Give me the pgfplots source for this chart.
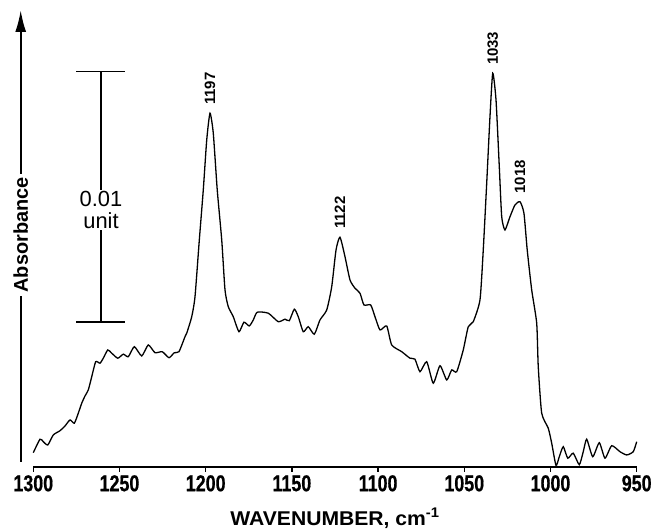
\documentclass[border=0pt]{standalone}
\usepackage{pgfplots}
\pgfplotsset{compat=1.18}
\usetikzlibrary{arrows.meta}
\usepackage{fontspec}
\setmainfont{Liberation Sans}
\newfontfamily\condfont[FakeStretch=0.78,FakeBold=0.6]{Liberation Sans}
\newfontfamily\widefont[FakeStretch=1.06]{Liberation Sans}

\pgfplotstableread{
x y
1300.0 0.56
1296.1 1.10
1294.2 1.00
1291.6 0.87
1288.4 1.27
1284.5 1.44
1281.6 1.63
1278.7 1.87
1276.2 1.74
1273.9 2.14
1271.9 2.54
1270.0 2.83
1268.1 3.07
1266.1 3.60
1263.8 4.20
1261.3 4.14
1259.4 4.34
1256.8 4.67
1254.5 4.54
1251.0 4.34
1247.8 4.50
1244.9 4.40
1241.4 4.80
1237.1 4.43
1233.3 4.87
1229.4 4.56
1225.2 4.60
1221.3 4.36
1218.2 4.56
1215.5 4.60
1212.0 5.20
1211.0 5.34
1208.1 6.00
1206.2 6.80
1203.7 9.07
1201.4 11.07
1199.4 13.07
1197.5 14.14
1195.6 13.34
1193.3 11.07
1190.7 9.07
1188.8 7.07
1186.9 6.40
1184.0 6.00
1180.7 5.40
1177.8 5.78
1174.7 5.63
1172.4 5.87
1170.1 6.18
1163.7 6.14
1157.9 5.80
1154.0 5.90
1151.5 5.84
1148.6 6.30
1146.3 6.00
1143.4 5.40
1140.5 5.60
1137.0 5.30
1133.7 5.87
1129.8 6.27
1126.9 7.20
1124.4 8.67
1122.1 9.18
1119.2 8.40
1116.3 7.47
1113.4 7.14
1110.5 6.94
1108.2 6.47
1104.3 6.47
1101.8 6.00
1098.9 5.47
1095.0 5.63
1092.1 4.87
1086.3 4.60
1081.5 4.34
1078.6 4.30
1075.7 3.80
1071.8 4.20
1068.0 3.34
1064.1 4.04
1060.2 3.47
1057.3 3.87
1054.4 3.80
1050.6 4.67
1047.7 5.60
1044.8 5.80
1040.9 6.67
1039.0 8.67
1037.0 11.34
1035.1 14.00
1033.5 15.74
1031.6 14.67
1029.7 12.00
1028.3 10.00
1026.4 9.47
1023.5 10.00
1020.6 10.47
1017.7 10.60
1015.4 10.14
1013.5 8.67
1010.9 7.07
1008.0 5.74
1007.1 4.00
1005.1 2.14
1001.3 1.54
999.3 0.94
996.8 0.05
994.9 0.40
992.6 0.80
990.0 0.34
986.8 0.54
983.3 0.08
981.0 0.60
979.0 1.10
975.5 0.40
971.7 0.96
968.4 0.34
964.5 0.84
959.7 0.60
955.8 0.47
952.0 0.60
950.0 1.00
}\spectrum

\begin{document}
\begin{tikzpicture}
\useasboundingbox (-33.3bp,-65.3bp) rectangle (624.7bp,466.7bp);
\begin{axis}[
  at={(0,0)}, anchor=south west,
  scale only axis, width=603.4bp, height=466.7bp,
  x dir=reverse, xmin=950, xmax=1300, ymin=0, ymax=18.668,
  axis x line*=bottom, axis y line=none, ytick=\empty,
  clip=false,
  xtick={950,1000,...,1300},
  /pgf/number format/assume math mode=true,
  /pgf/number format/1000 sep={},
  xticklabel style={font=\condfont\bfseries\fontsize{23}{23}\selectfont},
  tick align=outside, major tick length=5bp,
  every tick/.style={black, line width=1.3bp},
  x axis line style={line width=1.6bp},
  xlabel={WAVENUMBER, cm\textsuperscript{-1}},
  xlabel style={font=\widefont\bfseries\fontsize{20}{20}\selectfont, at={(axis description cs:0.5,0)}, anchor=center, yshift=-51.3bp},
]
\addplot[black, line width=1.3bp, smooth, tension=0.35] table {\spectrum};

% y arrow
\draw[line width=2.2bp, -{Latex[length=22bp,width=11bp]}] (axis cs:1307.3,0.2) -- (axis cs:1307.3,18.27);
\node[rotate=90, fill=white, inner sep=3bp, font=\bfseries\fontsize{20}{20}\selectfont] at (axis cs:1307.3,9.27) {Absorbance};

% scale bar
\draw[line width=1.3bp] (axis cs:1260.7,5.78) -- (axis cs:1260.7,15.8);
\draw[line width=1.5bp] (axis cs:1275.2,15.8) -- (axis cs:1246.8,15.8);
\draw[line width=1.5bp] (axis cs:1275.2,5.78) -- (axis cs:1246.8,5.78);
\node[fill=white, align=center, inner sep=1bp, font=\fontsize{22}{23}\selectfont] at (axis cs:1260.7,10.27) {0.01\\unit};

% peak labels
\tikzset{pk/.style={rotate=90, anchor=west, inner sep=0pt, font=\bfseries\fontsize{15}{15}\selectfont}}
\node[pk] at ([yshift=8bp]axis cs:1197.5,14.14) {1197};
\node[pk] at ([yshift=8bp]axis cs:1122.1,9.18) {1122};
\node[pk] at ([yshift=8bp]axis cs:1033.5,15.74) {1033};
\node[pk] at ([yshift=8bp]axis cs:1017.7,10.60) {1018};
\end{axis}
\end{tikzpicture}
\end{document}
